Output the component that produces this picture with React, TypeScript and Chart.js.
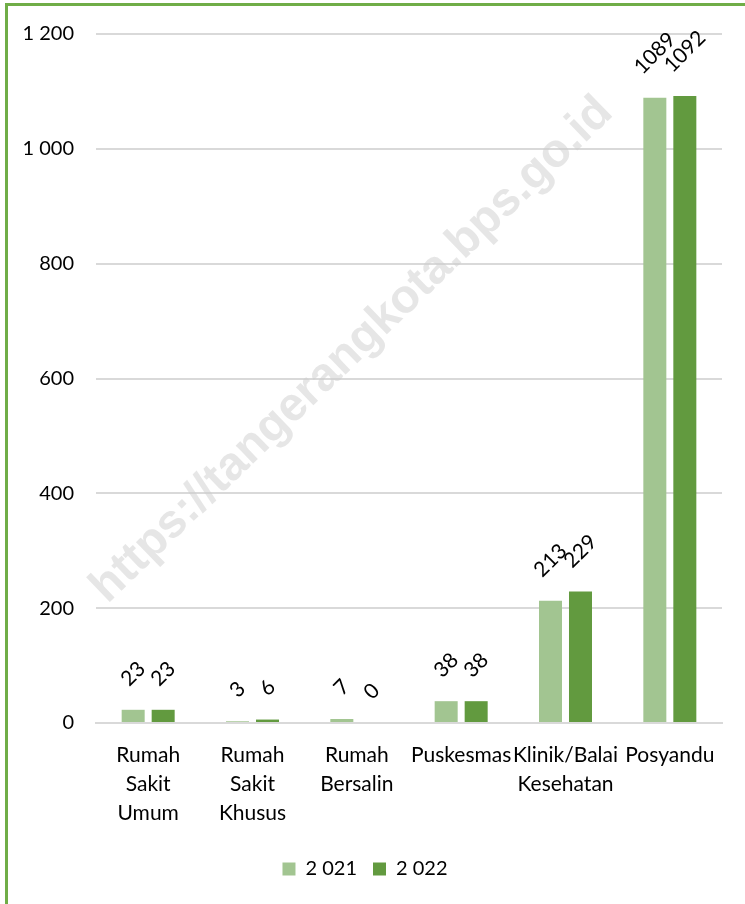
import React, { useEffect, useRef } from "react";
import { Chart, registerables } from "chart.js";

Chart.register(...registerables);

const categories: string[][] = [
  ["Rumah", "Sakit", "Umum"],
  ["Rumah", "Sakit", "Khusus"],
  ["Rumah", "Bersalin"],
  ["Puskesmas"],
  ["Klinik/Balai", "Kesehatan"],
  ["Posyandu"],
];
const series2021: number[] = [23, 3, 7, 38, 213, 1089];
const series2022: number[] = [23, 6, 0, 38, 229, 1092];
const seriesLabels: string[] = ["2 021", "2 022"];
const yTicks: number[] = [0, 200, 400, 600, 800, 1000, 1200];

const LIGHT = "#a2c591";
const DARK = "#629a3f";
const FONT = "Lato, 'Open Sans', sans-serif";
const FS = 20;

const fmt = (v: number) => {
  const s = String(Math.round(v));
  return s.replace(/\B(?=(\d{3})+(?!\d))/g, " ");
};

const watermarkPlugin = {
  id: "watermark",
  beforeDatasetsDraw(chart: any) {
    const ctx = chart.ctx;
    ctx.save();
    const text = "https://tangerangkota.bps.go.id";
    ctx.font = "bold 40px 'Liberation Sans', Arial, sans-serif";
    const w = ctx.measureText(text).width;
    const size = (40 * 705) / w;
    ctx.font = `bold ${size}px 'Liberation Sans', Arial, sans-serif`;
    ctx.fillStyle = "rgba(205,205,205,0.5)";
    ctx.translate(352, 350);
    ctx.rotate((-44 * Math.PI) / 180);
    ctx.textAlign = "center";
    ctx.textBaseline = "middle";
    ctx.fillText(text, 0, 0);
    ctx.restore();
  },
};

const labelPlugin = {
  id: "rotLabels",
  afterDatasetsDraw(chart: any) {
    const ctx = chart.ctx;
    ctx.save();
    ctx.font = `21px ${FONT}`;
    ctx.fillStyle = "#000";
    ctx.textAlign = "center";
    ctx.textBaseline = "middle";
    chart.data.datasets.forEach((ds: any, di: number) => {
      const meta = chart.getDatasetMeta(di);
      meta.data.forEach((bar: any, i: number) => {
        const v = ds.data[i];
        const t = String(v);
        const w = ctx.measureText(t).width;
        const h = 15;
        const bboxH = (w + h) * Math.SQRT1_2;
        const cx = bar.x;
        const cy = bar.y - 22 - bboxH / 2;
        ctx.save();
        ctx.translate(cx, cy);
        ctx.rotate(-Math.PI / 4);
        ctx.fillText(t, 0, 0);
        ctx.restore();
      });
    });
    ctx.restore();
  },
};

export default function App() {
  const ref = useRef<HTMLCanvasElement>(null);
  useEffect(() => {
    if (!ref.current) return;
    const chart = new Chart(ref.current, {
      type: "bar",
      data: {
        labels: categories as any,
        datasets: [
          {
            label: seriesLabels[0],
            data: series2021,
            backgroundColor: LIGHT,
            categoryPercentage: 0.575,
            barPercentage: 0.767,
          },
          {
            label: seriesLabels[1],
            data: series2022,
            backgroundColor: DARK,
            categoryPercentage: 0.575,
            barPercentage: 0.767,
          },
        ],
      },
      options: {
        animation: false,
        responsive: false,
        layout: { padding: { left: 8, right: 23, top: 34, bottom: 15 } },
        plugins: {
          legend: {
            position: "bottom",
            labels: {
              boxWidth: 13,
              boxHeight: 13,
              padding: 16,
              color: "#000",
              font: { family: FONT, size: FS },
            },
          },
          tooltip: { enabled: false },
        },
        scales: {
          x: {
            grid: { display: false, drawTicks: false },
            border: { display: true, color: "#d9d9d9", width: 2 },
            ticks: {
              autoSkip: false,
              maxRotation: 0,
              minRotation: 0,
              padding: 18,
              color: "#000",
              font: { family: FONT, size: 21, lineHeight: 29 / 21 },
            },
            afterFit: (s: any) => {
              s.height = 120;
            },
          },
          y: {
            min: 0,
            max: 1200,
            afterBuildTicks: (s: any) => {
              s.ticks = yTicks.map((v) => ({ value: v }));
            },
            grid: { color: "#d9d9d9", lineWidth: 2, drawTicks: false },
            border: { display: false },
            ticks: {
              padding: 22,
              color: "#000",
              font: { family: FONT, size: FS },
              callback: (v: any) => fmt(Number(v)),
            },
            afterFit: (s: any) => {
              s.width = 88;
            },
          },
        },
      },
      plugins: [watermarkPlugin, labelPlugin],
    });
    return () => chart.destroy();
  }, []);
  return (
    <div
      style={{
        position: "absolute",
        left: 0,
        top: 0,
        width: 745,
        height: 904,
        background: "#fff",
      }}
    >
      <div
        style={{
          position: "absolute",
          left: 5,
          top: 3,
          width: 745,
          height: 904,
          borderLeft: "3px solid #70ad47",
          borderTop: "3px solid #70ad47",
        }}
      />
      <canvas
        ref={ref}
        width={745}
        height={904}
        style={{ position: "absolute", left: 0, top: 0 }}
      />
    </div>
  );
}
